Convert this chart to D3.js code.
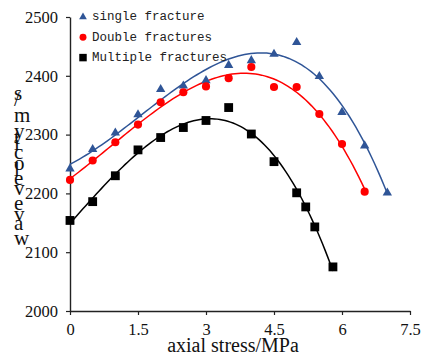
<!DOCTYPE html>
<html>
<head>
<meta charset="utf-8">
<script src="https://cdn.jsdelivr.net/npm/d3@7"></script>
<style>
  html, body { margin: 0; padding: 0; background: #fff; }
  svg { display: block; }
</style>
</head>
<body>
<svg id="chart" width="426" height="356"></svg>
<script>
// ---- data ----
const seriesNames = ["single fracture", "Double fractures", "Multiple fractures"];

const singleX = [0, 0.5, 1, 1.5, 2, 2.5, 3, 3.5, 4, 4.5, 5, 5.5, 6, 6.5, 7];
const singleY = [2242, 2275, 2303, 2334, 2377, 2383, 2392, 2418, 2426, 2437, 2457, 2399, 2338, 2281, 2201];

const doubleX = [0, 0.5, 1, 1.5, 2, 2.5, 3, 3.5, 4, 4.5, 5, 5.5, 6, 6.5];
const doubleY = [2223, 2256, 2287, 2317, 2355, 2372, 2382, 2396, 2415, 2381, 2381, 2335, 2284, 2203];

const multipleX = [0, 0.5, 1, 1.5, 2, 2.5, 3, 3.5, 4, 4.5, 5, 5.2, 5.4, 5.8];
const multipleY = [2154, 2186, 2230, 2274, 2295, 2312, 2324, 2346, 2301, 2254, 2201, 2177, 2143, 2075];

const xTicks = [0, 1.5, 3, 4.5, 6, 7.5];
const yTicks = [2000, 2100, 2200, 2300, 2400, 2500];
const xLabel = "axial stress/MPa";
const yLabel = "wave velocity m/s";

// ---- helpers ----
function polyFit(xs, ys, deg) {
  const n = deg + 1;
  const A = Array.from({length: n}, () => new Array(n + 1).fill(0));
  for (let i = 0; i < xs.length; i++) {
    for (let r = 0; r < n; r++) {
      for (let c = 0; c < n; c++) A[r][c] += Math.pow(xs[i], r + c);
      A[r][n] += ys[i] * Math.pow(xs[i], r);
    }
  }
  for (let p = 0; p < n; p++) {
    let m = p;
    for (let r = p + 1; r < n; r++) if (Math.abs(A[r][p]) > Math.abs(A[m][p])) m = r;
    [A[p], A[m]] = [A[m], A[p]];
    for (let r = 0; r < n; r++) {
      if (r === p) continue;
      const f = A[r][p] / A[p][p];
      for (let c = p; c <= n; c++) A[r][c] -= f * A[p][c];
    }
  }
  const coef = A.map((row, i) => row[n] / row[i]);
  return x => coef.reduce((s, c, i) => s + c * Math.pow(x, i), 0);
}

// ---- chart ----
const svg = d3.select("#chart");
const x = d3.scaleLinear().domain([0, 7.5]).range([70, 410]);
const y = d3.scaleLinear().domain([2000, 2500]).range([311, 17]);

const font = "'Liberation Serif', 'Times New Roman', serif";

const series = [
  {name: seriesNames[0], xs: singleX, ys: singleY, color: "#2F5597", symbol: d3.symbolTriangle, size: 38, lsize: 26},
  {name: seriesNames[1], xs: doubleX, ys: doubleY, color: "#FF0000", symbol: d3.symbolCircle, size: 52, lsize: 38},
  {name: seriesNames[2], xs: multipleX, ys: multipleY, color: "#000000", symbol: d3.symbolSquare, size: 78, lsize: 56}
];

// axes
const yAxis = svg.append("g")
  .attr("transform", `translate(${x(0)},0)`)
  .call(d3.axisLeft(y).tickValues(yTicks).tickSize(4).tickSizeOuter(0).tickPadding(8).tickFormat(d3.format("d")));
const xAxis = svg.append("g")
  .attr("transform", `translate(0,${y(2000)})`)
  .call(d3.axisBottom(x).tickValues(xTicks).tickSize(4).tickSizeOuter(0).tickPadding(8).tickFormat(d => String(d)));

[yAxis, xAxis].forEach(g => {
  g.selectAll("path.domain").attr("stroke", "#222").attr("stroke-width", 1.4);
  g.selectAll(".tick line").attr("stroke", "#222").attr("stroke-width", 1.2);
  g.selectAll("text").attr("font-family", font).attr("font-size", "16.5px").attr("fill", "#111");
});

// trend lines
const line = d3.line().x(d => x(d[0])).y(d => y(d[1]));
series.forEach(s => {
  const f = polyFit(s.xs, s.ys, 3);
  const x0 = d3.min(s.xs), x1 = d3.max(s.xs);
  const pts = d3.range(0, 101).map(i => { const xv = x0 + (x1 - x0) * i / 100; return [xv, f(xv)]; });
  svg.append("path").datum(pts).attr("d", line)
    .attr("fill", "none").attr("stroke", s.color).attr("stroke-width", 1.5);
});

// markers
series.forEach(s => {
  svg.append("g").selectAll("path")
    .data(s.xs.map((xv, i) => [xv, s.ys[i]]))
    .join("path")
    .attr("d", d3.symbol().type(s.symbol).size(s.size))
    .attr("transform", d => `translate(${x(d[0])},${y(d[1])})`)
    .attr("fill", s.color);
});

// legend
const legend = svg.append("g");
series.forEach((s, i) => {
  const ly = 17 + i * 20.3;
  legend.append("path")
    .attr("d", d3.symbol().type(s.symbol).size(s.lsize))
    .attr("transform", `translate(83,${ly})`)
    .attr("fill", s.color);
  legend.append("text")
    .attr("x", 92).attr("y", ly)
    .attr("dominant-baseline", "middle")
    .attr("font-family", "'Liberation Mono', 'Courier New', monospace")
    .attr("font-size", "12.5px")
    .attr("fill", "#222")
    .text(s.name);
});

// axis titles
svg.append("text")
  .attr("x", 233).attr("y", 352)
  .attr("text-anchor", "middle")
  .attr("font-family", font).attr("font-size", "20px").attr("fill", "#111")
  .text(xLabel);

svg.append("text")
  .attr("transform", "translate(14,245) rotate(-90)")
  .attr("rotate", "90")
  .attr("font-family", font).attr("font-size", "21px").attr("fill", "#111")
  .text(yLabel);
</script>
</body>
</html>
